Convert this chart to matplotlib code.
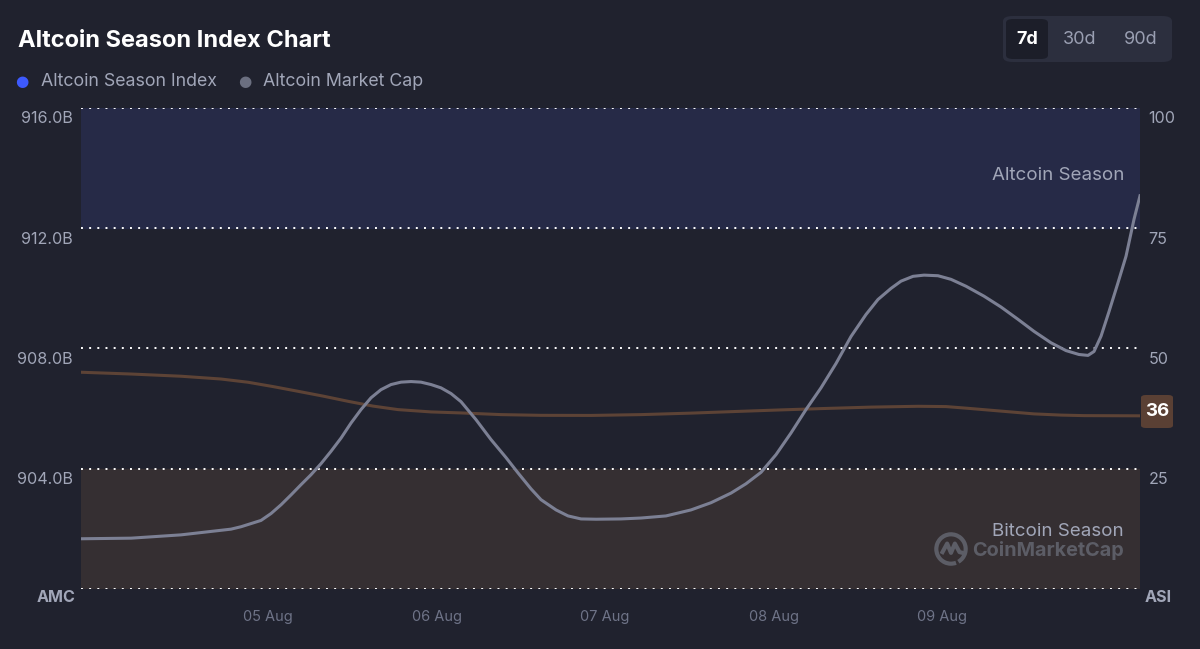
import matplotlib.pyplot as plt
import matplotlib.dates as mdates
from matplotlib.patches import FancyBboxPatch, Arc
from matplotlib.transforms import ScaledTranslation
import pandas as pd

plt.rcParams['font.family'] = ['Inter', 'DejaVu Sans']

# hours relative to 05 Aug 00:00
mc_hours = [-26.64, -19.51, -12.39, -5.27, -3.85, -1.00, 0.43, 1.85, 3.28, 4.70,
            6.12, 7.55, 8.97, 10.40, 11.82, 13.25, 14.67, 16.09, 17.52, 18.94,
            20.37, 21.79, 23.22, 24.64, 26.07, 27.49, 29.63, 31.76, 33.90, 35.61,
            37.46, 38.88, 41.02, 42.73, 44.58, 46.72, 50.28, 53.13, 56.69, 60.25,
            63.10, 65.95, 68.08, 70.22, 72.36, 74.49, 76.63, 78.76, 80.90, 83.04,
            85.17, 86.88, 88.74, 90.16, 91.87, 93.44, 95.43, 97.28, 99.42, 101.98,
            104.40, 106.82, 109.10, 111.52, 113.66, 115.51, 116.80, 117.65, 118.65, 119.79,
            121.07, 122.21, 123.35, 124.20]
# altcoin market cap, billions USD
mc_vals = [901.67, 901.69, 901.80, 901.99, 902.07, 902.28, 902.51, 902.80, 903.13, 903.47,
           903.80, 904.17, 904.58, 905.02, 905.52, 905.97, 906.36, 906.63, 906.80, 906.88,
           906.90, 906.88, 906.80, 906.69, 906.50, 906.23, 905.63, 904.97, 904.37, 903.86,
           903.33, 902.97, 902.63, 902.43, 902.33, 902.32, 902.33, 902.36, 902.43, 902.63,
           902.87, 903.19, 903.50, 903.88, 904.47, 905.19, 905.97, 906.69, 907.50, 908.40,
           909.13, 909.63, 910.00, 910.24, 910.40, 910.44, 910.42, 910.30, 910.07, 909.74,
           909.38, 908.97, 908.57, 908.19, 907.93, 907.80, 907.77, 907.90, 908.41, 909.23,
           910.19, 911.07, 912.30, 913.08]

asi_hours = [-26.64, -19.51, -12.39, -6.69, -2.85, 0.71, 4.27, 7.83, 11.39, 14.96,
             18.52, 23.22, 27.49, 33.19, 38.88, 46.01, 53.13, 60.25, 67.37, 73.07,
             78.76, 85.89, 92.58, 96.57, 99.70, 104.40, 109.10, 112.95, 116.22, 124.20]
# altcoin season index
asi_vals = [45.06, 44.69, 44.23, 43.65, 42.98, 42.08, 41.10, 40.10, 39.02, 38.02,
            37.29, 36.81, 36.60, 36.25, 36.10, 36.08, 36.25, 36.56, 36.94, 37.23,
            37.50, 37.81, 37.98, 37.92, 37.56, 36.98, 36.40, 36.15, 36.04, 36.0]

left_ticks = [900, 904, 908, 912, 916]
left_labels = ['', '904.0B', '908.0B', '912.0B', '916.0B']
right_ticks = [0, 25, 50, 75, 100]
right_labels = ['', '25', '50', '75', '100']
day_ticks = ['2024-08-05', '2024-08-06', '2024-08-07', '2024-08-08', '2024-08-09']

bg = '#20222e'
txt = '#a1a6b8'

base = pd.Timestamp('2024-08-05')
mc_t = base + pd.to_timedelta(mc_hours, unit='h')
asi_t = base + pd.to_timedelta(asi_hours, unit='h')

fig = plt.figure(figsize=(12, 6.49), dpi=100, facecolor=bg)
ax = fig.add_axes([0.0675, 0.0925, 0.8825, 0.7411])
ax.set_facecolor(bg)
ax2 = ax.twinx()

ax2.axhspan(75, 100, color='#262a47', zorder=0)
ax2.axhspan(0, 25, color='#352f32', zorder=0)
for v in right_ticks:
    ax2.axhline(v, color='white', lw=1.4, ls=(0, (1, 3.2)), zorder=1)

ax2.plot(asi_t, asi_vals, color='#5d4336', lw=2.2, zorder=2, solid_joinstyle='round')
ax.plot(mc_t, mc_vals, color='#7c8094', lw=2.2, zorder=3, solid_joinstyle='round')
ax.set_zorder(ax2.get_zorder() + 1)
ax.patch.set_visible(False)

ax.set_xlim(mc_t[0], mc_t[-1])
ax.set_ylim(900, 916)
ax2.set_ylim(0, 100)
ax.set_yticks(left_ticks)
ax.set_yticklabels(left_labels)
ax2.set_yticks(right_ticks)
ax2.set_yticklabels(right_labels)
ax.set_xticks(pd.to_datetime(day_ticks))
ax.xaxis.set_major_formatter(mdates.DateFormatter('%d %b'))

ax.tick_params(axis='y', length=0, pad=6, labelcolor=txt, labelsize=11.6)
ax2.tick_params(axis='y', length=0, pad=6, labelcolor=txt, labelsize=11.6)
ax.tick_params(axis='x', length=0, pad=15, labelcolor='#6e7387', labelsize=10.5)
for a in (ax, ax2):
    for s in a.spines.values():
        s.set_visible(False)

# value labels sit just below their grid line
shift = ScaledTranslation(0, -0.095, fig.dpi_scale_trans)
for lab in ax.get_yticklabels() + ax2.get_yticklabels():
    lab.set_transform(lab.get_transform() + shift)

fig.text(75 / 1200, 1 - 598 / 649, 'AMC', color=txt, fontsize=11.6, fontweight='bold',
         ha='right', va='center')
fig.text(1145 / 1200, 1 - 598 / 649, 'ASI', color=txt, fontsize=11.6, fontweight='bold',
         ha='left', va='center')

ax2.text(0.985, 0.86, 'Altcoin Season', transform=ax.transAxes, color=txt, fontsize=13.5,
         ha='right', va='center')
ax2.text(0.985, 0.12, 'Bitcoin Season', transform=ax.transAxes, color=txt, fontsize=13.5,
         ha='right', va='center')
ax2.text(0.985, 0.079, 'CoinMarketCap', transform=ax.transAxes, color='#5c5d66', fontsize=14.3,
         fontweight='bold', ha='right', va='center')

# watermark logo: ring with a zigzag inside
logo = fig.add_axes([(951 - 17) / 1200, 1 - (549 + 17) / 649, 34 / 1200, 34 / 649])
logo.set_xlim(-1.1, 1.1)
logo.set_ylim(-1.1, 1.1)
logo.axis('off')
logo.add_patch(Arc((0, 0), 1.9, 1.9, theta1=-60, theta2=290, color='#5c5d66', lw=3))
logo.plot([-0.55, -0.25, 0.0, 0.25, 0.55, 0.75], [-0.2, 0.35, -0.25, 0.35, -0.2, -0.25],
          color='#5c5d66', lw=3, solid_joinstyle='round')

# last value badge
badge = FancyBboxPatch((1141 / 1200, 1 - 428 / 649), 32 / 1200, 33 / 649,
                       boxstyle='round,pad=0,rounding_size=0.004', transform=fig.transFigure,
                       facecolor='#5a4034', edgecolor='none')
fig.patches.append(badge)
fig.text(1157 / 1200, 1 - 411 / 649, str(round(asi_vals[-1])), color='white', fontsize=13.5,
         fontweight='bold', ha='center', va='center')

# title and legend
fig.text(18 / 1200, 1 - 41 / 649, 'Altcoin Season Index Chart', color='white', fontsize=17,
         fontweight='bold', ha='left', va='center')
fig.text(22 / 1200, 1 - 82 / 649, '\u25cf', color='#3d5afe', fontsize=11, ha='center', va='center',
         family=['DejaVu Sans'])
fig.text(41 / 1200, 1 - 82 / 649, 'Altcoin Season Index', color=txt, fontsize=12.8, ha='left', va='center')
fig.text(245 / 1200, 1 - 82 / 649, '\u25cf', color='#6b6f80', fontsize=11, ha='center', va='center',
         family=['DejaVu Sans'])
fig.text(263 / 1200, 1 - 82 / 649, 'Altcoin Market Cap', color=txt, fontsize=12.8, ha='left', va='center')

# range buttons
grp = FancyBboxPatch((1003 / 1200, 1 - 62 / 649), 169 / 1200, 46 / 649,
                     boxstyle='round,pad=0,rounding_size=0.008', transform=fig.transFigure,
                     facecolor='#2c2f3e', edgecolor='none')
fig.patches.append(grp)
sel = FancyBboxPatch((1006 / 1200, 1 - 59 / 649), 42 / 1200, 40 / 649,
                     boxstyle='round,pad=0,rounding_size=0.006', transform=fig.transFigure,
                     facecolor='#1c1e29', edgecolor='none')
fig.patches.append(sel)
fig.text(1027 / 1200, 1 - 40 / 649, '7d', color='white', fontsize=13, fontweight='bold',
         ha='center', va='center')
fig.text(1080 / 1200, 1 - 40 / 649, '30d', color='#9a9fb2', fontsize=13, ha='center', va='center')
fig.text(1141 / 1200, 1 - 40 / 649, '90d', color='#9a9fb2', fontsize=13, ha='center', va='center')

fig.savefig('out.png', dpi=100, facecolor=bg)
